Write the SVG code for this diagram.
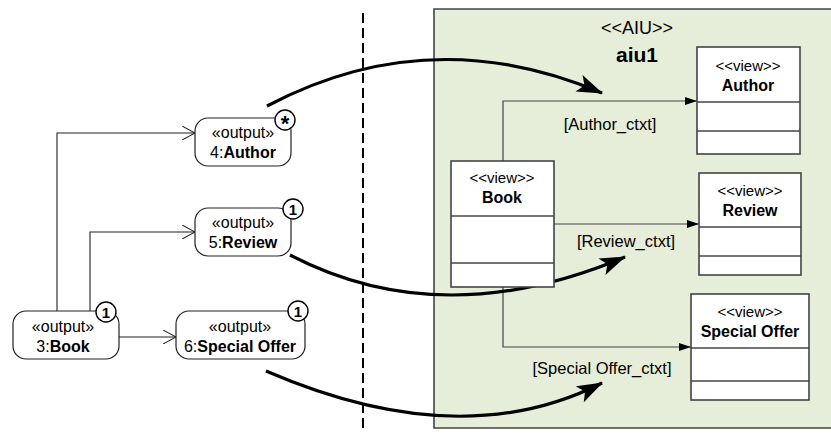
<svg xmlns="http://www.w3.org/2000/svg" width="831" height="433" viewBox="0 0 831 433">
<defs>
<style>
text{font-family:"Liberation Sans",Arial,sans-serif;fill:#000}
.st{font-size:16px}
.nm{font-size:16px}
.b{font-weight:bold}
.node{fill:#fff;stroke:#222;stroke-width:1.2}
.badge{fill:#fff;stroke:#000;stroke-width:1.4}
.bt{font-size:15px;font-weight:bold}
.view{fill:#fff;stroke:#444;stroke-width:1.6}
.vl{stroke:#444;stroke-width:1.4}
.vs{font-size:15px}
.vn{font-size:16px;font-weight:bold}
.lab{font-size:16.5px}
.thin{fill:none;stroke:#222;stroke-width:1.1}
.ctx{fill:none;stroke:#444;stroke-width:1.2}
.thick{fill:none;stroke:#000;stroke-width:3.2}
</style>
<marker id="open" viewBox="0 0 14 14" refX="13" refY="7" markerWidth="14" markerHeight="14" markerUnits="userSpaceOnUse" orient="auto">
<path d="M0,0 L13,7 L0,14" fill="none" stroke="#222" stroke-width="1.1"/>
</marker>
<marker id="filled" viewBox="0 0 12 8" refX="12" refY="4" markerWidth="12" markerHeight="8" markerUnits="userSpaceOnUse" orient="auto">
<path d="M0,0 L12,4 L0,8 Z" fill="#000"/>
</marker>
<marker id="big" viewBox="0 0 26 18" refX="25" refY="9" markerWidth="26" markerHeight="18" markerUnits="userSpaceOnUse" orient="auto">
<path d="M0,0 L26,9 L0,18 L6,9 Z" fill="#000"/>
</marker>
</defs>

<rect width="831" height="433" fill="#fff"/>

<g id="aiu1">
<path d="M834,9 H434 V428 H834" fill="#E6EDD9" stroke="#444" stroke-width="1.6"/>
<text x="637" y="34" text-anchor="middle" style="font-size:18px">&lt;&lt;AIU&gt;&gt;</text>
<text x="637" y="62" text-anchor="middle" class="b" style="font-size:21px">aiu1</text>
</g>

<line id="divider" x1="363" y1="13" x2="363" y2="433" stroke="#000" stroke-width="2" stroke-dasharray="10,5"/>

<g id="connectors">
<path class="thin" d="M57,311 V133 H195" marker-end="url(#open)"/>
<path class="thin" d="M90,311 V232 H195" marker-end="url(#open)"/>
<path class="thin" d="M119,337 H176" marker-end="url(#open)"/>
<path class="ctx" d="M503,161 V101 H697" marker-end="url(#filled)"/>
<path class="ctx" d="M554,224 H699" marker-end="url(#filled)"/>
<path class="ctx" d="M503,287 V347 H691" marker-end="url(#filled)"/>
<path class="thick" d="M267,106 Q430,20 602,93" marker-end="url(#big)"/>
<path class="thick" d="M290,255 Q442,334 625,257" marker-end="url(#big)"/>
<path class="thick" d="M266,371 Q460,455 602,383" marker-end="url(#big)"/>
<text class="lab" x="610" y="130" text-anchor="middle">[Author_ctxt]</text>
<text class="lab" x="626" y="247" text-anchor="middle">[Review_ctxt]</text>
<text class="lab" x="602" y="374" text-anchor="middle">[Special Offer_ctxt]</text>
</g>

<g id="out-author">
<rect class="node" x="195" y="118" width="96" height="48" rx="13"/>
<text class="st" x="243" y="138" text-anchor="middle">«output»</text>
<text class="nm" x="243" y="158" text-anchor="middle">4:<tspan class="b">Author</tspan></text>
<circle class="badge" cx="285" cy="120" r="10"/>
<text class="bt" x="285" y="131" text-anchor="middle" style="font-size:22px">*</text>
</g>

<g id="out-review">
<rect class="node" x="195" y="208" width="96" height="48" rx="13"/>
<text class="st" x="243" y="228" text-anchor="middle">«output»</text>
<text class="nm" x="243" y="248" text-anchor="middle">5:<tspan class="b">Review</tspan></text>
<circle class="badge" cx="293" cy="209" r="10"/>
<text class="bt" x="293" y="214.5" text-anchor="middle">1</text>
</g>

<g id="out-book">
<rect class="node" x="13" y="311" width="106" height="48" rx="13"/>
<text class="st" x="63" y="332" text-anchor="middle">«output»</text>
<text class="nm" x="63" y="352" text-anchor="middle">3:<tspan class="b">Book</tspan></text>
<circle class="badge" cx="106" cy="312" r="10"/>
<text class="bt" x="106" y="317.5" text-anchor="middle">1</text>
</g>

<g id="out-special">
<rect class="node" x="176" y="311" width="129" height="48" rx="13"/>
<text class="st" x="240" y="332" text-anchor="middle">«output»</text>
<text class="nm" x="240" y="352" text-anchor="middle">6:<tspan class="b">Special Offer</tspan></text>
<circle class="badge" cx="298" cy="311" r="10"/>
<text class="bt" x="298" y="316.5" text-anchor="middle">1</text>
</g>

<g id="view-book">
<rect class="view" x="451" y="161" width="103" height="126"/>
<line class="vl" x1="451" y1="216" x2="554" y2="216"/>
<line class="vl" x1="451" y1="263" x2="554" y2="263"/>
<text class="vs" x="502" y="183" text-anchor="middle">&lt;&lt;view&gt;&gt;</text>
<text class="vn" x="502" y="203" text-anchor="middle">Book</text>
</g>

<g id="view-author">
<rect class="view" x="697" y="47" width="103" height="107"/>
<line class="vl" x1="697" y1="102" x2="800" y2="102"/>
<line class="vl" x1="697" y1="131" x2="800" y2="131"/>
<text class="vs" x="748" y="71" text-anchor="middle">&lt;&lt;view&gt;&gt;</text>
<text class="vn" x="748" y="91" text-anchor="middle">Author</text>
</g>

<g id="view-review">
<rect class="view" x="699" y="173" width="102" height="102"/>
<line class="vl" x1="699" y1="227" x2="801" y2="227"/>
<line class="vl" x1="699" y1="256" x2="801" y2="256"/>
<text class="vs" x="750" y="196" text-anchor="middle">&lt;&lt;view&gt;&gt;</text>
<text class="vn" x="750" y="216" text-anchor="middle">Review</text>
</g>

<g id="view-special">
<rect class="view" x="691" y="294" width="118" height="106"/>
<line class="vl" x1="691" y1="348" x2="809" y2="348"/>
<line class="vl" x1="691" y1="381" x2="809" y2="381"/>
<text class="vs" x="750" y="317" text-anchor="middle">&lt;&lt;view&gt;&gt;</text>
<text class="vn" x="750" y="337" text-anchor="middle">Special Offer</text>
</g>
</svg>
